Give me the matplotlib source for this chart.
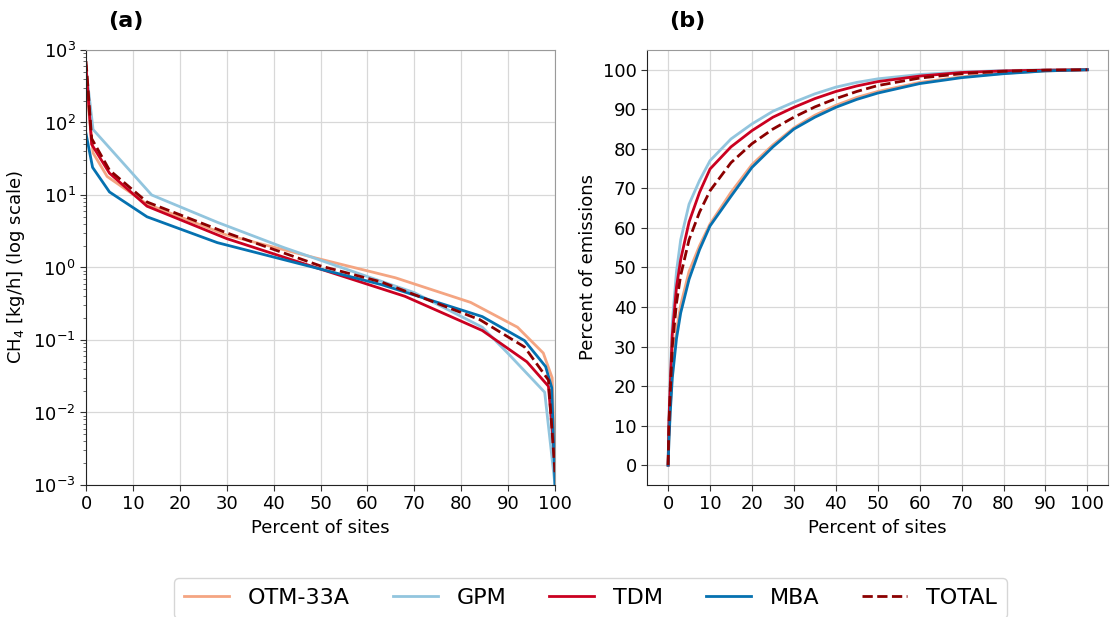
import numpy as np
import matplotlib
matplotlib.use("Agg")
import matplotlib.pyplot as plt
from matplotlib.ticker import LogLocator, NullFormatter

# ---- (a) emission rate per site, sorted from largest to smallest ----
otm_x = [0, 1.5, 4.5, 13, 30, 50, 66, 82, 92, 97.5, 99.4, 100]
otm_y = [350, 38, 18, 7.5, 2.8, 1.3, 0.72, 0.33, 0.15, 0.066, 0.03, 0.002]

gpm_x = [0, 1.5, 14, 28, 42, 60, 70, 84.5, 90, 97.8, 100]
gpm_y = [550, 80, 10, 4.2, 1.9, 0.75, 0.45, 0.15, 0.065, 0.019, 0.001]

tdm_x = [0, 1.2, 5, 13, 30, 50, 68, 84.5, 94, 98.6, 100]
tdm_y = [600, 50, 20, 7.0, 2.5, 0.95, 0.4, 0.135, 0.05, 0.023, 0.002]

mba_x = [0, 1.4, 5, 13, 28, 50, 63, 84.5, 93.5, 98, 99.3, 100]
mba_y = [70, 24, 11, 5.0, 2.2, 0.95, 0.58, 0.21, 0.098, 0.043, 0.022, 0.001]

tot_x = [0, 1.2, 5, 13, 30, 50, 63, 84, 93.5, 98.6, 100]
tot_y = [700, 60, 22, 8.0, 3.0, 1.05, 0.63, 0.19, 0.08, 0.028, 0.0015]

# ---- (b) cumulative share of emissions ----
cum_x = [0, 0.2, 0.5, 1, 2, 3, 5, 7.5, 10, 15, 20, 25, 30, 35, 40, 45, 50,
         60, 70, 80, 90, 100]
cum_otm = [0, 7, 14, 24, 34, 40.5, 49, 55.5, 61, 69, 76, 81, 85.3, 88.5, 91,
           93, 94.5, 96.8, 98.2, 99.1, 99.7, 100]
cum_gpm = [0, 12, 22, 36, 49, 57, 66, 72, 77, 82.5, 86.3, 89.5, 91.8, 93.9,
           95.6, 96.8, 97.7, 98.8, 99.4, 99.8, 99.95, 100]
cum_tdm = [0, 11, 20, 33, 45, 52, 61.5, 69, 74.9, 80.5, 84.6, 88, 90.5, 92.7,
           94.5, 95.9, 97.0, 98.4, 99.3, 99.7, 99.9, 100]
cum_mba = [0, 6, 13, 22, 32, 38.5, 47, 54.5, 60.5, 68, 75.3, 80.5, 85, 88,
           90.5, 92.5, 94.1, 96.5, 98.0, 99.0, 99.7, 100]
cum_tot = [0, 10, 18, 30, 41, 48, 57, 64, 69.4, 76.5, 81.3, 85, 88, 90.6,
           92.7, 94.5, 96.0, 97.9, 99.0, 99.6, 99.9, 100]

labels = ["OTM-33A", "GPM", "TDM", "MBA", "TOTAL"]
colors = ["#f4a582", "#92c5de", "#ca0020", "#0571b0", "#8b0000"]
styles = ["-", "-", "-", "-", "--"]

left_series = [(otm_x, otm_y), (gpm_x, gpm_y), (tdm_x, tdm_y),
               (mba_x, mba_y), (tot_x, tot_y)]
right_series = [cum_otm, cum_gpm, cum_tdm, cum_mba, cum_tot]

fig = plt.figure(figsize=(11.1, 6.17), dpi=100)
ax1 = fig.add_axes([0.0775, 0.214, 0.4225, 0.705])
ax2 = fig.add_axes([0.583, 0.214, 0.4155, 0.705])

for (x, y), lab, c, ls in zip(left_series, labels, colors, styles):
    ax1.plot(x, y, color=c, ls=ls, lw=2, label=lab)
for y, lab, c, ls in zip(right_series, labels, colors, styles):
    ax2.plot(cum_x, y, color=c, ls=ls, lw=2, label=lab)

ax1.set_yscale("log")
ax1.set_ylim(1e-3, 1e3)
ax1.set_xlim(0, 100)
ax1.set_xticks(np.arange(0, 101, 10))
ax1.yaxis.set_minor_locator(LogLocator(base=10, subs=np.arange(2, 10), numticks=20))
ax1.yaxis.set_minor_formatter(NullFormatter())
ax1.set_ylabel("CH$_4$ [kg/h] (log scale)", fontsize=13)

ax2.set_xticks(np.arange(0, 101, 10))
ax2.set_yticks(np.arange(0, 101, 10))
ax2.set_ylabel("Percent of emissions", fontsize=13)

for ax, tag in [(ax1, "(a)"), (ax2, "(b)")]:
    ax.set_xlabel("Percent of sites", fontsize=13)
    ax.grid(True, color="#d8d8d8", lw=0.9)
    ax.set_axisbelow(True)
    ax.tick_params(labelsize=13, length=4, color="#333333")
    ax.tick_params(which="minor", length=2.5, color="#555555")
    for s in ["left", "bottom"]:
        ax.spines[s].set_color("#222222")
    for s in ["top", "right"]:
        ax.spines[s].set_color("#9a9a9a")
    ax.text(0.048, 1.053, tag, transform=ax.transAxes, fontsize=16,
            fontweight="bold")

handles, labs = ax2.get_legend_handles_labels()
leg = fig.legend(handles, labs, loc="upper center", bbox_to_anchor=(0.532, 0.063),
                 borderaxespad=0, ncol=5, fontsize=16, frameon=True,
                 handlelength=2.0, columnspacing=1.95, handletextpad=0.85,
                 borderpad=0.45)
leg.get_frame().set_edgecolor("#cccccc")

fig.savefig("out.png", dpi=100)
